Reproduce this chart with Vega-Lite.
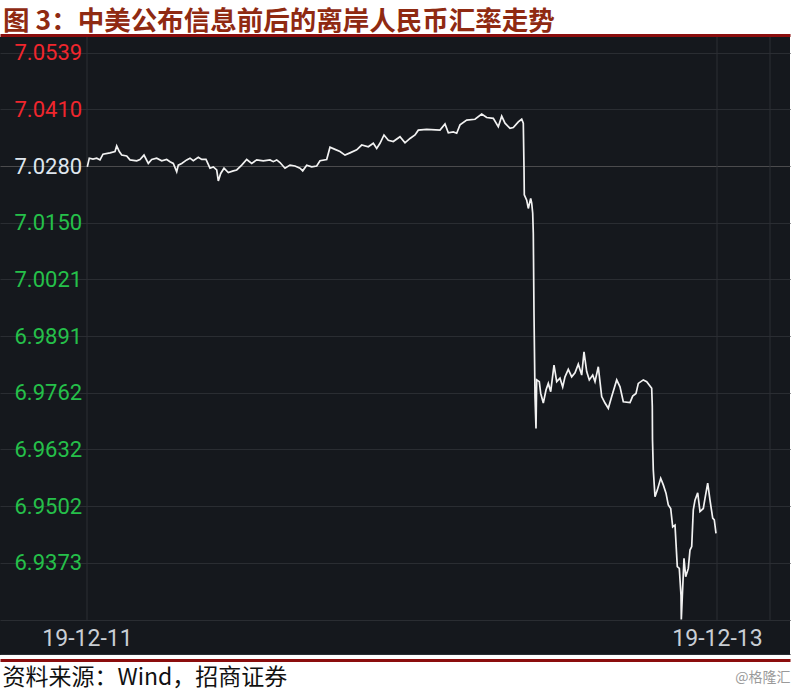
{
  "$schema": "https://vega.github.io/schema/vega-lite/v6.json",
  "width": 790,
  "height": 618,
  "autosize": "none",
  "padding": {"left": 0, "top": 37, "right": 3, "bottom": 35},
  "background": "white",
  "config": {"view": {"fill": "#15181d", "stroke": null}},
  "title": {
    "text": "图 3：中美公布信息前后的离岸人民币汇率走势",
    "anchor": "start",
    "frame": "group",
    "dx": 3,
    "offset": -13,
    "baseline": "middle",
    "font": "Noto Sans CJK SC",
    "fontSize": 26.5,
    "fontWeight": "bold",
    "color": "#8f2a12"
  },
  "datasets": {
    "grid": [{"t": 0}, {"t": 630}, {"t": 683}],
    "fx": [
      {"t": 0.3, "v": 7.0278}, {"t": 2.3, "v": 7.0298}, {"t": 6, "v": 7.0296}, {"t": 9.7, "v": 7.0298},
      {"t": 13, "v": 7.0294}, {"t": 16, "v": 7.0307}, {"t": 23, "v": 7.031}, {"t": 28, "v": 7.0313},
      {"t": 29.7, "v": 7.0326}, {"t": 32.3, "v": 7.0313}, {"t": 34.7, "v": 7.0305}, {"t": 39.7, "v": 7.0303},
      {"t": 43, "v": 7.0294}, {"t": 49.7, "v": 7.0292}, {"t": 53, "v": 7.0295}, {"t": 57, "v": 7.0305},
      {"t": 61.3, "v": 7.0286}, {"t": 64.7, "v": 7.0295}, {"t": 69.7, "v": 7.0298}, {"t": 74.7, "v": 7.0292},
      {"t": 79.7, "v": 7.0295}, {"t": 83, "v": 7.029}, {"t": 86.3, "v": 7.0286}, {"t": 89.7, "v": 7.0267},
      {"t": 91.3, "v": 7.0282}, {"t": 94.7, "v": 7.0286}, {"t": 99.7, "v": 7.0294}, {"t": 103, "v": 7.0298},
      {"t": 106.3, "v": 7.0292}, {"t": 111.3, "v": 7.03}, {"t": 114.7, "v": 7.0295}, {"t": 119, "v": 7.0295},
      {"t": 123, "v": 7.0275}, {"t": 126.3, "v": 7.0278}, {"t": 129.7, "v": 7.0271}, {"t": 131.3, "v": 7.0246},
      {"t": 133.7, "v": 7.0263}, {"t": 137, "v": 7.0275}, {"t": 141.3, "v": 7.0265}, {"t": 146.3, "v": 7.0269},
      {"t": 149.7, "v": 7.0271}, {"t": 154.7, "v": 7.0282}, {"t": 159.7, "v": 7.0295}, {"t": 164.7, "v": 7.0286},
      {"t": 169.7, "v": 7.0294}, {"t": 176.3, "v": 7.0292}, {"t": 183, "v": 7.0294}, {"t": 186.3, "v": 7.029},
      {"t": 189.7, "v": 7.0294}, {"t": 193, "v": 7.0288}, {"t": 198, "v": 7.0275}, {"t": 203, "v": 7.0282},
      {"t": 208, "v": 7.028}, {"t": 213, "v": 7.0275}, {"t": 215.7, "v": 7.0269}, {"t": 219.7, "v": 7.0282},
      {"t": 224.7, "v": 7.0278}, {"t": 229.7, "v": 7.028}, {"t": 233, "v": 7.0292}, {"t": 239.7, "v": 7.0295},
      {"t": 243, "v": 7.0323}, {"t": 248, "v": 7.0318}, {"t": 253, "v": 7.0313}, {"t": 258, "v": 7.0305},
      {"t": 263, "v": 7.031}, {"t": 269.7, "v": 7.0317}, {"t": 274.7, "v": 7.0328}, {"t": 281.3, "v": 7.0324},
      {"t": 286.3, "v": 7.0332}, {"t": 289.7, "v": 7.032}, {"t": 293, "v": 7.0332}, {"t": 297, "v": 7.0351},
      {"t": 301.3, "v": 7.0339}, {"t": 306.3, "v": 7.0336}, {"t": 313, "v": 7.0347}, {"t": 318, "v": 7.0333},
      {"t": 323, "v": 7.0343}, {"t": 328, "v": 7.0351}, {"t": 331.3, "v": 7.0362}, {"t": 339.7, "v": 7.0364},
      {"t": 353, "v": 7.0362}, {"t": 358, "v": 7.0376}, {"t": 361.3, "v": 7.0356}, {"t": 366.3, "v": 7.0358},
      {"t": 369.7, "v": 7.0355}, {"t": 373, "v": 7.0374}, {"t": 379.7, "v": 7.0385}, {"t": 388, "v": 7.0387},
      {"t": 394.7, "v": 7.0399}, {"t": 399.7, "v": 7.0391}, {"t": 406.3, "v": 7.0389}, {"t": 411.3, "v": 7.037},
      {"t": 414.7, "v": 7.0394}, {"t": 418, "v": 7.0378}, {"t": 423, "v": 7.0366}, {"t": 426.3, "v": 7.0368},
      {"t": 431.3, "v": 7.0381}, {"t": 434.7, "v": 7.0387}, {"t": 436.3, "v": 7.0378}, {"t": 437, "v": 7.0278},
      {"t": 437.3, "v": 7.0214}, {"t": 439.7, "v": 7.0202}, {"t": 441.3, "v": 7.0183}, {"t": 443.7, "v": 7.0206},
      {"t": 444.7, "v": 7.0195}, {"t": 445.7, "v": 7.0172}, {"t": 446.3, "v": 7.0126}, {"t": 447, "v": 6.9943},
      {"t": 448, "v": 6.9753}, {"t": 449, "v": 6.968}, {"t": 449.7, "v": 6.9791}, {"t": 452.3, "v": 6.9787},
      {"t": 453.7, "v": 6.976}, {"t": 456.3, "v": 6.9738}, {"t": 459, "v": 6.9768}, {"t": 461.3, "v": 6.9783},
      {"t": 463.7, "v": 6.9764}, {"t": 467, "v": 6.9825}, {"t": 469.7, "v": 6.9787}, {"t": 473, "v": 6.9795},
      {"t": 475.7, "v": 6.9775}, {"t": 478, "v": 6.9798}, {"t": 481.3, "v": 6.9815}, {"t": 484.7, "v": 6.9798},
      {"t": 488, "v": 6.9807}, {"t": 491.3, "v": 6.9827}, {"t": 494.7, "v": 6.9802}, {"t": 497, "v": 6.9855},
      {"t": 499.7, "v": 6.981}, {"t": 502.3, "v": 6.9791}, {"t": 505.7, "v": 6.9802}, {"t": 508, "v": 6.9787},
      {"t": 511.3, "v": 6.9821}, {"t": 514.7, "v": 6.9753}, {"t": 518, "v": 6.9738}, {"t": 521.3, "v": 6.9726},
      {"t": 524.7, "v": 6.9753}, {"t": 529.7, "v": 6.9791}, {"t": 533, "v": 6.9775}, {"t": 536.3, "v": 6.9741},
      {"t": 543, "v": 6.9739}, {"t": 545.7, "v": 6.9754}, {"t": 549, "v": 6.976}, {"t": 551.3, "v": 6.9783},
      {"t": 556.3, "v": 6.9791}, {"t": 559.7, "v": 6.9787}, {"t": 564.7, "v": 6.9772}, {"t": 565.3, "v": 6.973},
      {"t": 565.5, "v": 6.9654}, {"t": 566.3, "v": 6.9585}, {"t": 568, "v": 6.9524}, {"t": 570.3, "v": 6.9539},
      {"t": 573.7, "v": 6.9566}, {"t": 576.3, "v": 6.9551}, {"t": 579, "v": 6.9532}, {"t": 581.3, "v": 6.9505},
      {"t": 583.7, "v": 6.9497}, {"t": 585.7, "v": 6.9455}, {"t": 588, "v": 6.9459}, {"t": 590.3, "v": 6.9364},
      {"t": 592.3, "v": 6.936}, {"t": 594, "v": 6.9299}, {"t": 594.3, "v": 6.9243}, {"t": 595.3, "v": 6.9295},
      {"t": 597, "v": 6.9383}, {"t": 598.7, "v": 6.9341}, {"t": 601.3, "v": 6.936}, {"t": 603, "v": 6.9402},
      {"t": 604.7, "v": 6.941}, {"t": 606.3, "v": 6.9494}, {"t": 608, "v": 6.9516}, {"t": 610.7, "v": 6.9533},
      {"t": 613, "v": 6.949}, {"t": 616.3, "v": 6.9497}, {"t": 618, "v": 6.952}, {"t": 620.7, "v": 6.9555},
      {"t": 623, "v": 6.9516}, {"t": 625.7, "v": 6.9475}, {"t": 627.3, "v": 6.9471}, {"t": 629, "v": 6.944}
    ]
  },
  "layer": [
    {
      "data": {"name": "grid"},
      "mark": {"type": "rule", "color": "#2c2f35", "strokeWidth": 1},
      "encoding": {
        "x": {
          "field": "t",
          "type": "quantitative",
          "scale": {"domain": [-87, 703], "nice": false, "zero": false},
          "axis": {
            "orient": "top",
            "values": [],
            "offset": 2,
            "domainColor": "#8b0d0d",
            "domainWidth": 3,
            "labels": false,
            "ticks": false,
            "grid": false,
            "title": null
          }
        },
        "y": {"datum": 7.0575, "type": "quantitative"},
        "y2": {"datum": 6.92421}
      }
    },
    {
      "data": {"name": "fx"},
      "mark": {"type": "line", "color": "#f2f2f2", "strokeWidth": 1.7},
      "encoding": {
        "x": {
          "field": "t",
          "type": "quantitative",
          "axis": {
            "orient": "bottom",
            "values": [0, 630],
            "labelExpr": "datum.value == 0 ? '19-12-11' : '19-12-13'",
            "offset": 5,
            "domainColor": "#8b0d0d",
            "domainWidth": 3,
            "ticks": false,
            "grid": false,
            "labelPadding": -22,
            "labelBaseline": "middle",
            "labelFont": "Roboto",
            "labelFontSize": 23,
            "labelColor": "#c9ced4",
            "labelFlush": false,
            "labelOverlap": false,
            "title": "资料来源：Wind，招商证券",
            "titleX": 2,
            "titleY": 17,
            "titleAnchor": "start",
            "titleAlign": "left",
            "titleBaseline": "middle",
            "titleFont": "Noto Sans CJK SC",
            "titleFontSize": 23,
            "titleFontWeight": "normal",
            "titleColor": "#111111"
          }
        },
        "y": {
          "field": "v",
          "type": "quantitative",
          "scale": {"domain": [6.9162, 7.0575], "nice": false, "zero": false},
          "axis": {
            "orient": "left",
            "values": [7.0539, 7.041, 7.028, 7.015, 7.0021, 6.9891, 6.9762, 6.9632, 6.9502, 6.9373, 6.92421, 6.91643],
            "labelExpr": "datum.value < 6.93 ? '' : format(datum.value, '.4f')",
            "labelAlign": "left",
            "labelBaseline": "middle",
            "labelPadding": -14,
            "labelFont": "Roboto",
            "labelFontSize": 22,
            "labelOverlap": false,
            "labelFlush": false,
            "labelBound": false,
            "ticks": false,
            "domain": false,
            "grid": true,
            "gridColor": {"condition": {"test": "abs(datum.value - 7.028) < 0.00001", "value": "#4b4b4d"}, "value": "#2a2d32"},
            "labelColor": {"condition": [{"test": "datum.value > 7.035", "value": "#f0262d"}, {"test": "datum.value > 7.02", "value": "#dfe6ee"}], "value": "#25c04a"},
            "title": "@格隆汇",
            "titleAngle": 0,
            "titleX": 790,
            "titleY": 640,
            "titleAlign": "right",
            "titleBaseline": "middle",
            "titleFont": "Noto Sans CJK SC",
            "titleFontSize": 14,
            "titleFontWeight": "normal",
            "titleColor": "#9a9a9a"
          }
        }
      }
    }
  ],
  "resolve": {"axis": {"x": "independent"}}
}
